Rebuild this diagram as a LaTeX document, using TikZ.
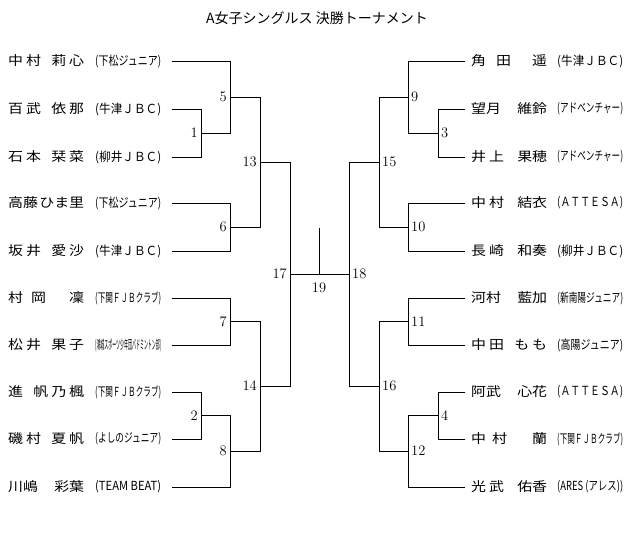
\documentclass[tikz,border=0pt]{standalone}
\usepackage{fontspec}
\usepackage{graphicx}
\newfontfamily\jpfont{Noto Sans CJK JP}
\newfontfamily\namefont[FakeStretch=1.15]{Noto Sans CJK JP}

% Name set across a fixed width, family left and given name right
\newcommand{\pname}[2]{\makebox[76pt][s]{#1\hfill#2}}
% Club name squeezed to one width
\newcommand{\club}[1]{\resizebox{66pt}{\height}{(#1)}}
\newcommand{\ks}{\hspace{3pt}}

\begin{document}
\begin{tikzpicture}[x=1pt, y=-1pt]
    % Define styles
    \tikzset{
        player/.style={anchor=west, inner sep=0pt, font=\namefont\fontsize{13}{13}\selectfont},
        clubname/.style={anchor=west, inner sep=0pt, font=\jpfont\fontsize{12.5}{12.5}\selectfont},
        matchno/.style={inner sep=3pt, font=\fontsize{14.5}{14.5}\selectfont},
        bracket/.style={line width=1pt}
    }
    \useasboundingbox (0,0) rectangle (640,533);

    % Title
    \node[font=\jpfont\fontsize{14}{14}\selectfont] (title) at (317,18) {A女子シングルス 決勝トーナメント};

    % Left players
    \node[player] (l1) at (8,61) {\pname{中\ks{}村}{莉\ks{}心}};
    \node[clubname] (l1c) at (95,61) {\club{下松ジュニア}};
    \node[player] (l2) at (8,109) {\pname{百\ks{}武}{依\ks{}那}};
    \node[clubname] (l2c) at (95,109) {\club{牛津ＪＢＣ}};
    \node[player] (l3) at (8,157) {\pname{石\ks{}本}{栞\ks{}菜}};
    \node[clubname] (l3c) at (95,157) {\club{柳井ＪＢＣ}};
    \node[player] (l4) at (8,203) {\pname{高藤}{ひま里}};
    \node[clubname] (l4c) at (95,203) {\club{下松ジュニア}};
    \node[player] (l5) at (8,251) {\pname{坂\ks{}井}{愛\ks{}沙}};
    \node[clubname] (l5c) at (95,251) {\club{牛津ＪＢＣ}};
    \node[player] (l6) at (8,298) {\pname{村\hspace{8pt}岡}{凜}};
    \node[clubname] (l6c) at (95,298) {\club{下関ＦＪＢクラブ}};
    \node[player] (l7) at (8,345) {\pname{松\ks{}井}{果\ks{}子}};
    \node[clubname] (l7c) at (95,345) {\club{鴻城スポーツ少年団バドミントン部}};
    \node[player] (l8) at (8,392) {\pname{進}{帆\ks{}乃\ks{}楓}};
    \node[clubname] (l8c) at (95,392) {\club{下関ＦＪＢクラブ}};
    \node[player] (l9) at (8,439) {\pname{磯\ks{}村}{夏\ks{}帆}};
    \node[clubname] (l9c) at (95,439) {\club{よしのジュニア}};
    \node[player] (l10) at (8,487) {\pname{川嶋}{彩葉}};
    \node[clubname] (l10c) at (95,487) {\club{TEAM BEAT}};

    % Right players
    \node[player] (r1) at (471,61) {\pname{角\hspace{10pt}田}{遥}};
    \node[clubname] (r1c) at (557,61) {\club{牛津ＪＢＣ}};
    \node[player] (r2) at (471,109) {\pname{望月}{維鈴}};
    \node[clubname] (r2c) at (557,109) {\club{アドベンチャー}};
    \node[player] (r3) at (471,157) {\pname{井\ks{}上}{果穂}};
    \node[clubname] (r3c) at (557,157) {\club{アドベンチャー}};
    \node[player] (r4) at (471,203) {\pname{中\ks{}村}{結衣}};
    \node[clubname] (r4c) at (557,203) {\club{ＡＴＴＥＳＡ}};
    \node[player] (r5) at (471,251) {\pname{長\ks{}崎}{和奏}};
    \node[clubname] (r5c) at (557,251) {\club{柳井ＪＢＣ}};
    \node[player] (r6) at (471,298) {\pname{河村}{藍加}};
    \node[clubname] (r6c) at (557,298) {\club{新南陽ジュニア}};
    \node[player] (r7) at (471,345) {\pname{中\ks{}田}{も\ks{}も}};
    \node[clubname] (r7c) at (557,345) {\club{高陽ジュニア}};
    \node[player] (r8) at (471,392) {\pname{阿武}{心花}};
    \node[clubname] (r8c) at (557,392) {\club{ＡＴＴＥＳＡ}};
    \node[player] (r9) at (471,439) {\pname{中\hspace{6pt}村}{蘭}};
    \node[clubname] (r9c) at (557,439) {\club{下関ＦＪＢクラブ}};
    \node[player] (r10) at (471,487) {\pname{光\ks{}武}{佑香}};
    \node[clubname] (r10c) at (557,487) {\club{ARES (アレス)}};

    % Line ends next to the players
    \foreach \i/\y in {1/61, 2/109, 3/157, 4/203, 5/251, 6/298, 7/345, 8/392, 9/439, 10/487} {
        \coordinate (l\i e) at (172,\y);
        \coordinate (r\i e) at (465,\y);
    }

    % Match junctions, left half
    \coordinate (j1) at (201,133);
    \coordinate (j5) at (230,97);
    \coordinate (j6) at (230,227);
    \coordinate (j13) at (260,162);
    \coordinate (j7) at (230,321.5);
    \coordinate (j2) at (201,415.5);
    \coordinate (j8) at (230,451);
    \coordinate (j14) at (260,386);
    \coordinate (j17) at (290,274);

    % Match junctions, right half
    \coordinate (j3) at (438,133);
    \coordinate (j9) at (408,97);
    \coordinate (j10) at (408,227);
    \coordinate (j15) at (379,162);
    \coordinate (j11) at (408,321.5);
    \coordinate (j4) at (438,415.5);
    \coordinate (j12) at (408,451);
    \coordinate (j16) at (379,386);
    \coordinate (j18) at (349,274);

    % Final
    \coordinate (j19) at (319,274);
    \coordinate (t19) at (319,228);

    % Bracket lines
    \foreach \a/\b in {l1e/j5, l2e/j1, l3e/j1, j1/j5, l4e/j6, l5e/j6, j5/j13, j6/j13,
                       l6e/j7, l7e/j7, l8e/j2, l9e/j2, j2/j8, l10e/j8, j7/j14, j8/j14,
                       j13/j17, j14/j17,
                       r1e/j9, r2e/j3, r3e/j3, j3/j9, r4e/j10, r5e/j10, j9/j15, j10/j15,
                       r6e/j11, r7e/j11, r8e/j4, r9e/j4, j4/j12, r10e/j12, j11/j16, j12/j16,
                       j15/j18, j16/j18} {
        \draw[bracket] (\a) -| (\b);
    }
    \draw[bracket] (j17) -- (j18);
    \draw[bracket] (j19) -- (t19);

    % Match numbers
    \foreach \m in {1,2,5,6,7,8,13,14,17} {
        \node[matchno, anchor=east] (m\m) at (j\m) {\m};
    }
    \foreach \m in {3,4,9,10,11,12,15,16,18} {
        \node[matchno, anchor=west] (m\m) at (j\m) {\m};
    }
    \node[matchno] (m19) at (319,288) {19};

\end{tikzpicture}
\end{document}
